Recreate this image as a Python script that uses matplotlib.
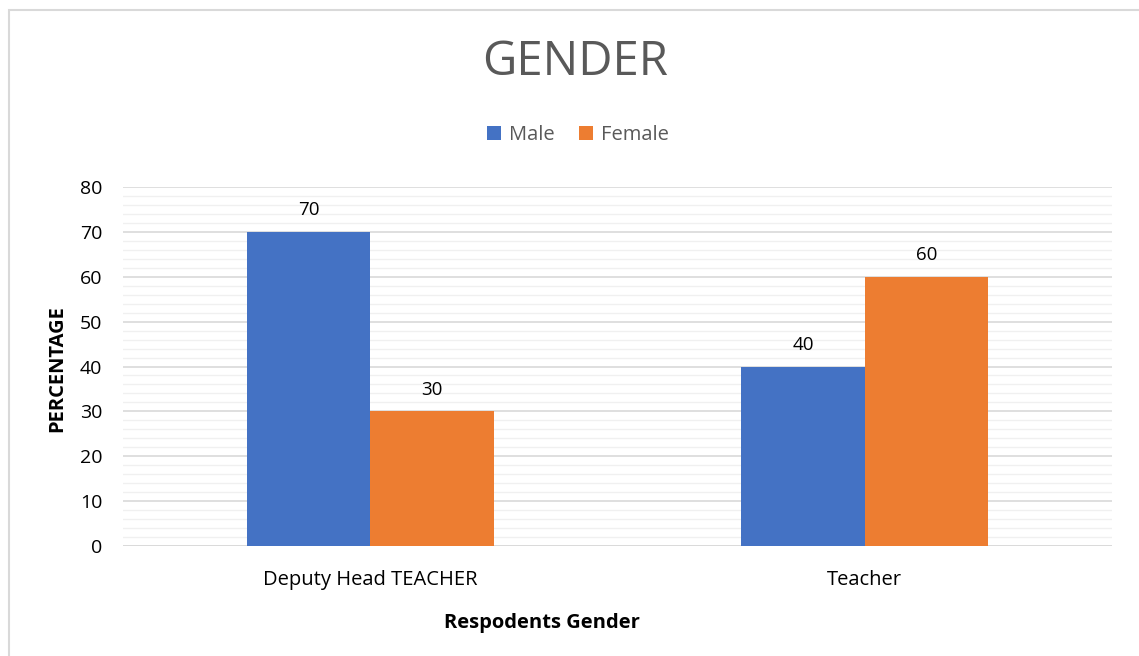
import matplotlib
matplotlib.use("Agg")
import matplotlib.pyplot as plt
from matplotlib.patches import Rectangle
import numpy as np

categories = ["Deputy Head TEACHER", "Teacher"]
series_names = ["Male", "Female"]
male = [70, 40]
female = [30, 60]
colors = ["#4472C4", "#ED7D31"]

plt.rcParams['font.family'] = ['Open Sans', 'DejaVu Sans']

fig = plt.figure(figsize=(11.39, 6.56), dpi=100)
ax = fig.add_axes([123/1139, 1-546/656, (1112-123)/1139, (546-187)/656])

x = np.arange(len(categories))
w = 0.25
b1 = ax.bar(x - w/2, male, w, color=colors[0], label=series_names[0], zorder=3)
b2 = ax.bar(x + w/2, female, w, color=colors[1], label=series_names[1], zorder=3)
for bars in (b1, b2):
    for r in bars:
        ax.annotate(f"{r.get_height():g}", (r.get_x() + r.get_width()/2, r.get_height()),
                    xytext=(0, 9), textcoords="offset points", ha="center", va="bottom",
                    fontsize=13.5, color="#000000")

ax.set_xlim(-0.5, 1.5)
ax.set_ylim(0, 80)
ax.set_yticks(np.arange(0, 81, 10))
ax.set_yticks(np.arange(0, 81, 2), minor=True)
ax.set_xticks(x)
ax.set_xticklabels(categories)
ax.grid(axis="y", which="major", color="#D9D9D9", linewidth=1.2, zorder=0)
ax.grid(axis="y", which="minor", color="#F0F0F0", linewidth=1.0, zorder=0)
for s in ax.spines.values():
    s.set_visible(False)
ax.tick_params(axis="both", which="both", length=0)
ax.tick_params(axis="y", labelsize=14, pad=15)
ax.tick_params(axis="x", labelsize=14.5, pad=17)
ax.axhline(0, color="#D9D9D9", linewidth=1.2, zorder=2)

ax.set_ylabel("PERCENTAGE", fontsize=14.5, fontweight="bold")
ax.yaxis.set_label_coords(-(123-57)/(1112-123), (546-369)/(546-187))
ax.yaxis.label.set_va("center")
ax.set_xlabel("Respodents Gender", fontsize=14.5, fontweight="bold")
ax.xaxis.set_label_coords((542-123)/(1112-123), -(623-546)/(546-187))
ax.xaxis.label.set_va("center")

fig.text(575/1139, 1-62/656, "GENDER", ha="center", va="center", fontsize=34, color="#595959")
fig.legend(handles=[b1, b2], labels=series_names, loc="center", bbox_to_anchor=(578/1139, 1-135/656),
           ncol=2, frameon=False, fontsize=14.5, handlelength=0.7, handleheight=0.7,
           columnspacing=1.2, handletextpad=0.4, labelcolor="#595959")

fig.add_artist(Rectangle((8.5/1139, -0.05), 1.2, 1 - 9.5/656 + 0.05, transform=fig.transFigure,
                         fill=False, edgecolor="#D9D9D9", linewidth=1.5))

fig.savefig("out.png", dpi=100)
